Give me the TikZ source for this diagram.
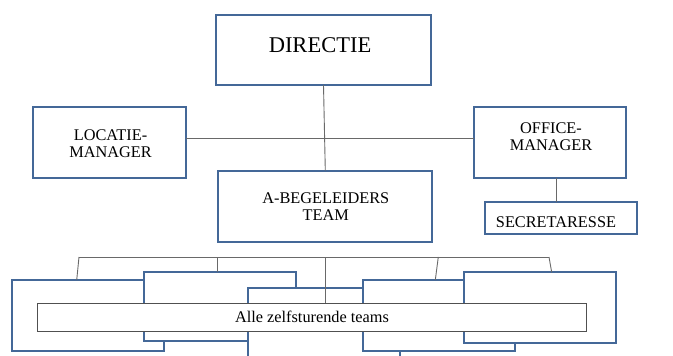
\documentclass[tikz,border=0pt]{standalone}
\usepackage{fontspec}
\setmainfont{Liberation Serif}
\usetikzlibrary{calc}
\definecolor{boxblue}{RGB}{68,104,152}
\definecolor{linegray}{RGB}{105,105,105}
\definecolor{labelgray}{RGB}{80,80,80}
\begin{document}
\begin{tikzpicture}[x=1pt,y=-1pt,
  orgbox/.style={draw=boxblue, line width=1.8pt, fill=white, inner sep=0pt, outer sep=0pt},
  txt/.style={inner sep=0pt, align=center, font=\fontsize{16.3}{17}\selectfont, text=black},
  conn/.style={draw=linegray, line width=0.9pt},
  labelbox/.style={draw=labelgray, line width=1pt, fill=white, inner sep=0pt, outer sep=0pt, font=\fontsize{16.3}{17}\selectfont}]
\useasboundingbox (0,0) rectangle (673,356);
\clip (0,0) rectangle (673,356);
\fill[white] (0,0) rectangle (673,356);

% top part
\node[orgbox, minimum width=215pt, minimum height=70pt] (dir) at (323.5,50) {};
\node[txt, font=\fontsize{22.5}{24}\selectfont] (dirt) at (320,45.5) {DIRECTIE};
\node[orgbox, minimum width=153pt, minimum height=71pt] (loc) at (109.5,142.5) {};
\node[txt] (loct) at (110.5,144) {LOCATIE-\\MANAGER};
\node[orgbox, minimum width=152pt, minimum height=71pt] (off) at (550,142.5) {};
\node[txt] (offt) at (551,137) {OFFICE-\\MANAGER};
\node[orgbox, minimum width=152pt, minimum height=32pt] (sec) at (561,218) {};
\node[txt] (sect) at (556,222) {SECRETARESSE};
\node[orgbox, minimum width=214pt, minimum height=71pt] (abeg) at (325.3,206.2) {};
\node[txt] (abegt) at (325.8,206.8) {A-BEGELEIDERS\\TEAM};

\draw[conn] (dir.south) -- (abeg.north);
\draw[conn] ([yshift=4.5pt]loc.east) -- ([yshift=4.5pt]off.west);
\draw[conn] ([xshift=6pt]off.south) -- ([xshift=-5pt]sec.north);

% teams
\node[orgbox, minimum width=152pt, minimum height=70.7pt] (t1) at (88.3,315.4) {};
\node[orgbox, minimum width=152pt, minimum height=68.7pt] (t2) at (220,306.7) {};
\node[orgbox, minimum width=152.3pt, minimum height=70.7pt] (t3) at (323.9,323) {};
\node[orgbox, minimum width=152pt, minimum height=70.7pt] (t4) at (439,315.4) {};
\node[orgbox, minimum width=152.3pt, minimum height=70.4pt] (t5) at (539.9,307.5) {};
\node[labelbox, minimum width=549.4pt, minimum height=27.7pt] (lab) at (312,317.2) {Alle zelfsturende teams};

\coordinate (b1) at (79,257);
\coordinate (b2) at (217,257);
\coordinate (b3) at (325,257);
\coordinate (b4) at (438.3,257);
\coordinate (b5) at (549,257);
\draw[conn] (b1) -- (b5);
\draw[conn] (b1) -- ([xshift=-11.6pt]t1.north);
\draw[conn] (b2) -- ([xshift=-3pt]t2.north);
\draw[conn] (b3) -- ([xshift=13pt]lab.north);
\draw[conn] (b4) -- ([xshift=-3.7pt]t4.north);
\draw[conn] (b5) -- ([xshift=11.8pt]t5.north);
\end{tikzpicture}
\end{document}
